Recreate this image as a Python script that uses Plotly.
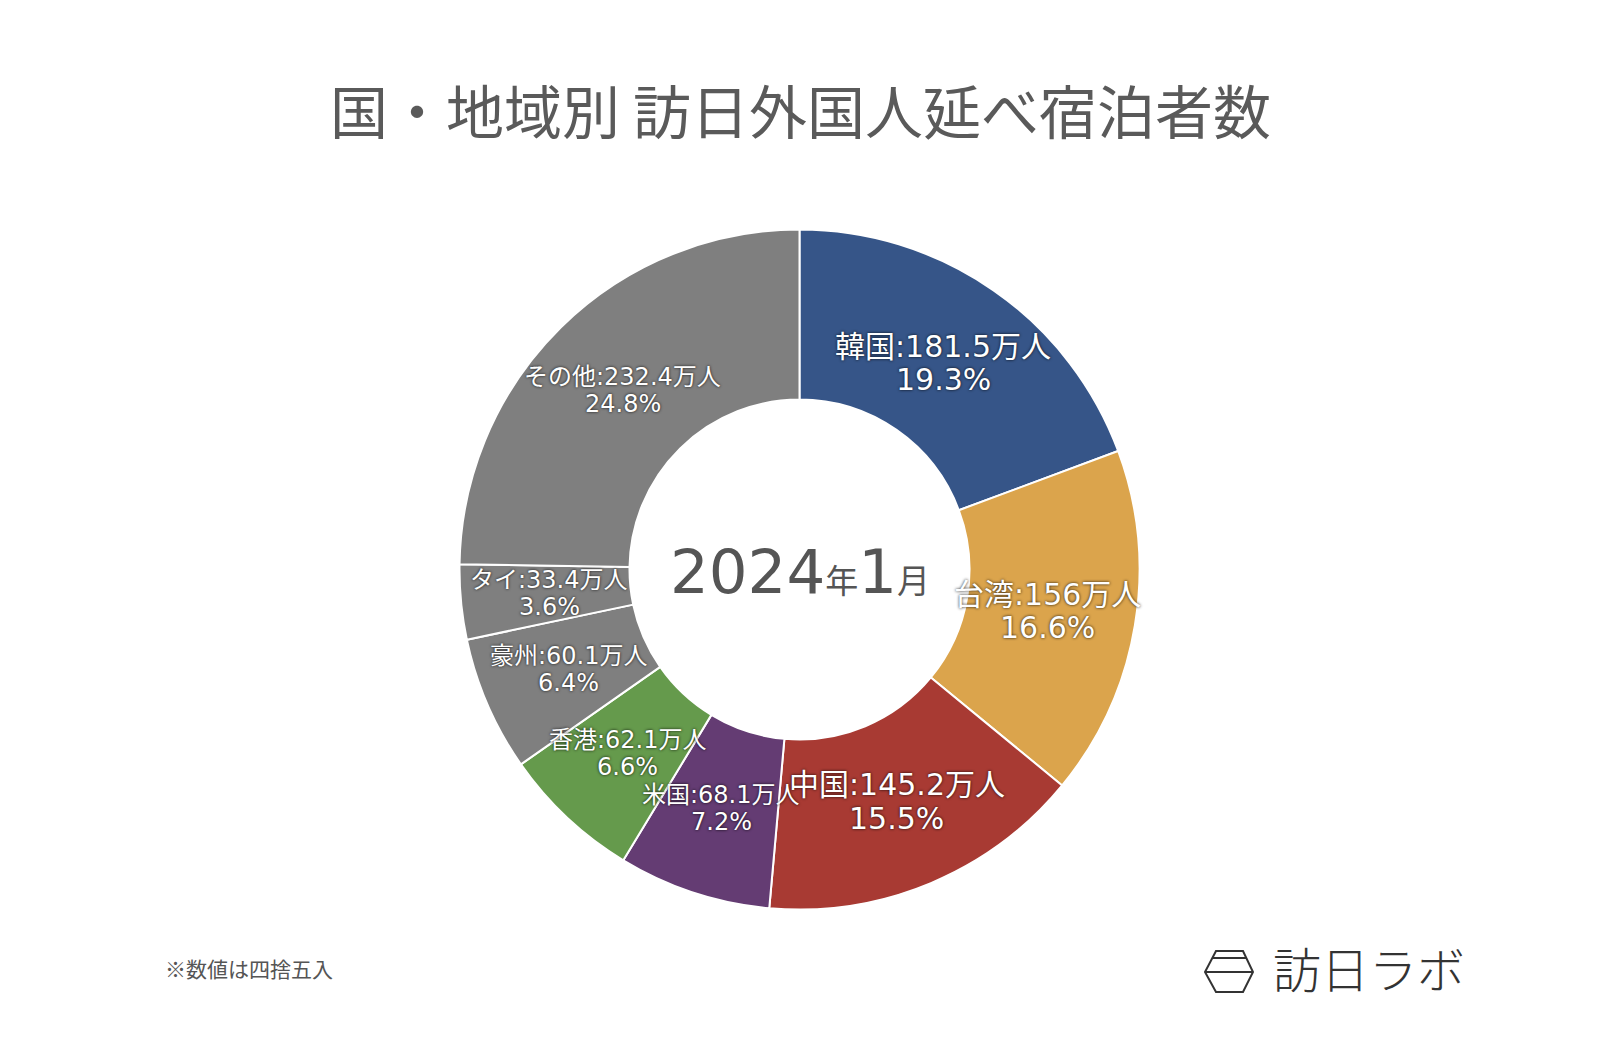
import math
import plotly.graph_objects as go

# ---- data ----
categories = ["韓国", "台湾", "中国", "米国", "香港", "豪州", "タイ", "その他"]
values = [181.5, 156, 145.2, 68.1, 62.1, 60.1, 33.4, 232.4]
percents = [19.3, 16.6, 15.5, 7.2, 6.6, 6.4, 3.6, 24.8]
colors = ["#365588", "#DBA44C", "#A83A33", "#643C73", "#659A4C", "#7F7F7F", "#7F7F7F", "#7F7F7F"]
label_sizes = [30, 30, 30, 24, 24, 24, 24, 24]

title_text = "国・地域別 訪日外国人延べ宿泊者数"
center_year = "2024"
center_month = "1"
note_text = "※数値は四捨五入"
logo_text = "訪日ラボ"

W, H = 1600, 1048
OFF = 8  # page body margin of the html page
FONT = "Noto Sans CJK JP"
LAB_FONT = "DejaVu Sans, Noto Sans CJK JP"


def px2x(x):
    return (x - OFF) / W


def px2y(y):
    return (H - (y - OFF)) / H


# pie geometry (page pixels)
cx, cy, R = 799.5, 569.5, 340
hole = 0.5
dom_x = [px2x(cx - R), px2x(cx + R)]
dom_y = [px2y(cy + R), px2y(cy - R)]

fig = go.Figure()
fig.add_trace(go.Pie(
    labels=categories,
    values=values,
    sort=False,
    direction="clockwise",
    rotation=0,
    hole=hole,
    marker=dict(colors=colors, line=dict(color="white", width=2)),
    textinfo="none",
    hoverinfo="label+value+percent",
    domain=dict(x=dom_x, y=dom_y),
    showlegend=False,
))

# labels placed at slice mid-angles on the ring
total = sum(values)
annotations = []
cum = 0.0
r_lab = R * 0.74
shadow = "0px 0px 3px rgba(0,0,0,0.9)"
for cat, v, pc, fs in zip(categories, values, percents, label_sizes):
    mid = (cum + v / 2) / total * 2 * math.pi
    cum += v
    lx = cx + r_lab * math.sin(mid)
    ly = cy - r_lab * math.cos(mid)
    half = fs * 0.56
    annotations.append(dict(
        x=px2x(lx), y=px2y(ly - half), xref="paper", yref="paper",
        text=f"{cat}:{v:g}万人", showarrow=False,
        xanchor="center", yanchor="middle",
        font=dict(family=LAB_FONT, size=fs, color="white", shadow=shadow),
    ))
    annotations.append(dict(
        x=px2x(lx), y=px2y(ly + half), xref="paper", yref="paper",
        text=f"{pc:.1f}%", showarrow=False,
        xanchor="center", yanchor="middle",
        font=dict(family=LAB_FONT, size=fs, color="white", shadow=shadow),
    ))

# center text
annotations.append(dict(
    x=px2x(cx), y=px2y(571), xref="paper", yref="paper",
    text=(f"{center_year}<span style='font-family:Noto Sans CJK JP;font-size:33px'>年</span>"
          f"{center_month}<span style='font-family:Noto Sans CJK JP;font-size:33px'>月</span>"),
    showarrow=False, xanchor="center", yanchor="middle",
    font=dict(family=LAB_FONT, size=61, color="#555555"),
))

# title
annotations.append(dict(
    x=px2x(800), y=px2y(109), xref="paper", yref="paper",
    text=title_text, showarrow=False, xanchor="center", yanchor="middle",
    font=dict(family=FONT, size=58, color="#5A5A5A"),
))

# note
annotations.append(dict(
    x=px2x(163), y=px2y(968), xref="paper", yref="paper",
    text=note_text, showarrow=False, xanchor="left", yanchor="middle",
    font=dict(family=FONT, size=21, color="#555555"),
))

# logo text
annotations.append(dict(
    x=px2x(1271), y=px2y(967), xref="paper", yref="paper",
    text=logo_text, showarrow=False, xanchor="left", yanchor="middle",
    font=dict(family=FONT, size=48, color="#333333", weight=300),
))


# logo hexagon icon
def p(x, y):
    return f"{px2x(x):.5f},{px2y(y):.5f}"


hex_path = ("M " + p(1216, 951) + " L " + p(1243, 951) + " L " + p(1253, 972) +
            " L " + p(1243, 992) + " L " + p(1216, 992) + " L " + p(1205, 972) + " Z")
shapes = [
    dict(type="path", xref="paper", yref="paper", path=hex_path,
         line=dict(color="#333333", width=2)),
    dict(type="line", xref="paper", yref="paper",
         x0=px2x(1212.5), x1=px2x(1246.5), y0=px2y(958), y1=px2y(958),
         line=dict(color="#333333", width=2)),
    dict(type="line", xref="paper", yref="paper",
         x0=px2x(1205), x1=px2x(1253), y0=px2y(972), y1=px2y(972),
         line=dict(color="#333333", width=2)),
]

fig.update_layout(
    width=W, height=H,
    margin=dict(l=0, r=0, t=0, b=0),
    paper_bgcolor="white", plot_bgcolor="white",
    annotations=annotations, shapes=shapes,
    font=dict(family=FONT),
)

fig.write_html("out.html")
